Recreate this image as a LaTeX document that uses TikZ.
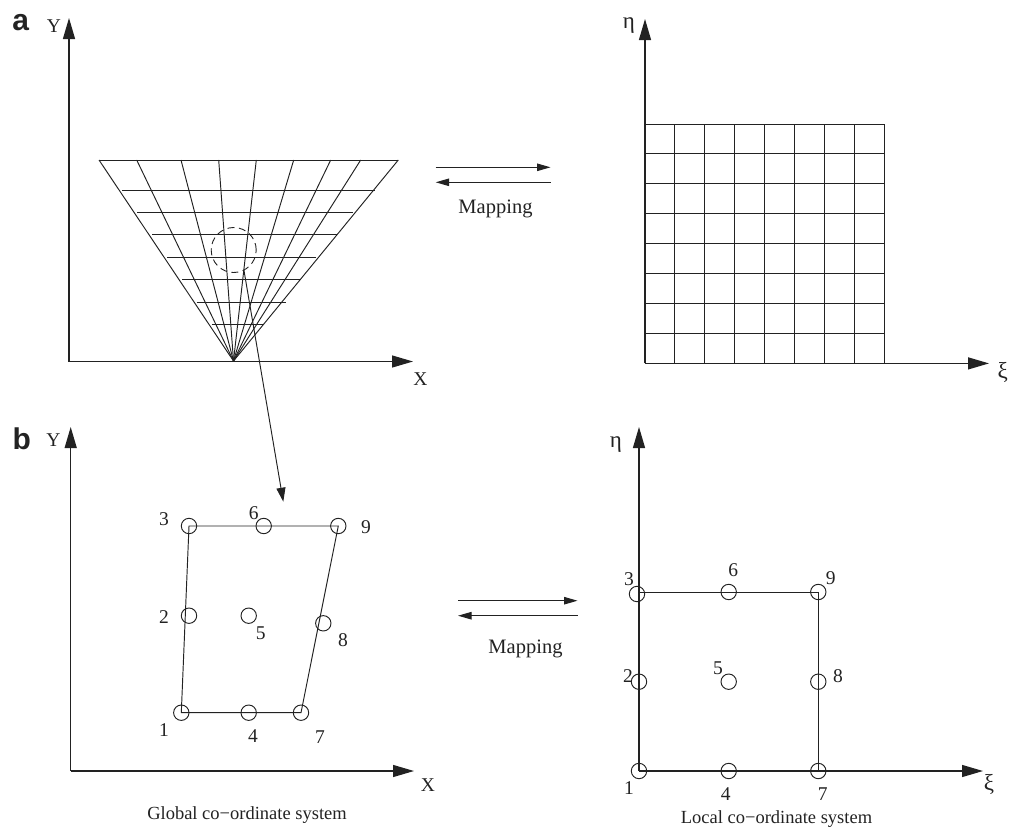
\documentclass[tikz,border=0pt]{standalone}
\usepackage{fontspec}
\setmainfont{Liberation Serif}
\newfontfamily\panelfont{Liberation Sans}[Scale=1]
\usetikzlibrary{arrows.meta}
\definecolor{ink}{HTML}{222222}
\tikzset{
  thinline/.style={draw=ink,line width=0.95pt},
  axisline/.style={draw=ink,line width=1.25pt,-{Triangle[length=21pt,width=12pt]}},
  maparrow/.style={draw=ink,line width=1pt,-{Triangle[length=13.5pt,width=7.5pt]}},
  nodering/.style={circle,draw=ink,line width=0.95pt,minimum size=15.4pt,inner sep=0pt,outer sep=0pt},
  lab/.style={anchor=base,inner sep=0pt,outer sep=0pt,text=ink,font=\fontsize{19.5}{19.5}\selectfont},
  greek/.style={lab,font=\fontsize{23}{23}\selectfont},
  maplab/.style={lab,font=\fontsize{20.5}{20.5}\selectfont},
  caption/.style={lab,font=\fontsize{18.5}{18.5}\selectfont},
  panel/.style={anchor=base,inner sep=0pt,outer sep=0pt,text=ink,font=\fontsize{30}{30}\selectfont\panelfont\bfseries}
}
\begin{document}
\begin{tikzpicture}[x=1pt,y=-1pt]
\useasboundingbox (0,0) rectangle (1012,830);
% ---------- panel a, left: fan mesh
\coordinate (apex) at (233.5,361);
\foreach \i/\x in {0/99,1/136.7,2/181,3/218.7,4/256.3,5/293.7,6/330.7,7/360.7,8/398.3}{
  \coordinate (top\i) at (\x,160);
  \draw[thinline] (apex) -- (top\i);
}
\draw[thinline] (top0) -- (top8);
\foreach \i/\y/\xa/\xb in {1/190/122/375,2/212.3/137/353.3,3/234.7/152/337.3,4/257/167/316,5/279.3/182/300.7,6/302/196.7/286,7/324.3/211.7/264}{
  \coordinate (hl\i) at (\xa,\y);
  \coordinate (hr\i) at (\xb,\y);
  \draw[thinline] (hl\i) -- (hr\i);
}
\coordinate (oa) at (69,361.5);
\coordinate (ya) at (69,18);
\coordinate (xa) at (413,361.5);
\draw[axisline] (oa) -- (ya);
\draw[axisline] (oa) -- (xa);
\node[circle,draw=ink,line width=0.9pt,dash pattern=on 7pt off 4.5pt,minimum size=45pt,inner sep=0pt,outer sep=0pt] (zone) at (233.7,250) {};
% ---------- panel a, right: square mesh
\foreach \i in {0,...,8}{
  \pgfmathsetmacro{\gx}{645+\i*29.93}
  \pgfmathsetmacro{\gy}{124+\i*29.93}
  \coordinate (gt\i) at (\gx,124);
  \coordinate (gb\i) at (\gx,363.4);
  \coordinate (gl\i) at (645,\gy);
  \coordinate (gr\i) at (884.4,\gy);
  \draw[thinline] (gt\i) -- (gb\i);
  \draw[thinline] (gl\i) -- (gr\i);
}
\coordinate (oe) at (645,363.4);
\coordinate (ye) at (645,19);
\coordinate (xe) at (989,363.4);
\draw[axisline] (oe) -- (ye);
\draw[axisline] (oe) -- (xe);
% ---------- mapping arrows a
\coordinate (m1l) at (435.7,167.3);
\coordinate (m1r) at (550.5,167.3);
\coordinate (m2l) at (435.7,182.3);
\coordinate (m2r) at (550.5,182.3);
\draw[maparrow] (m1l) -- (m1r);
\draw[maparrow] (m2r) -- (m2l);
\node[maplab] (mapa) at (495.5,213) {Mapping};
% ---------- panel b, left
\coordinate (ob) at (70.7,771);
\coordinate (yb) at (70.7,427);
\coordinate (xb) at (414,771);
\draw[axisline] (ob) -- (yb);
\draw[axisline] (ob) -- (xb);
\node[nodering] (g1) at (181.3,712.7) {};
\node[nodering] (g2) at (189,615.7) {};
\node[nodering] (g3) at (189,526) {};
\node[nodering] (g4) at (248.7,712.7) {};
\node[nodering] (g5) at (248.7,615.7) {};
\node[nodering] (g6) at (263.7,526) {};
\node[nodering] (g7) at (301,712.7) {};
\node[nodering] (g8) at (323.3,623.3) {};
\node[nodering] (g9) at (338.3,526) {};
\draw[thinline] (g1.center) -- (g3.center) -- (g9.center) -- (g7.center) -- cycle;
\node[lab] at (164,736) {1};
\node[lab] at (164,623.7) {2};
\node[lab] at (164,525.7) {3};
\node[lab] at (253,742) {4};
\node[lab] at (260.7,639) {5};
\node[lab] at (253.7,519) {6};
\node[lab] at (320,743) {7};
\node[lab] at (343,646) {8};
\node[lab] at (366,533.7) {9};
\coordinate (tipb) at (283.3,501.7);
\draw[draw=ink,line width=0.95pt,-{Triangle[length=14pt,width=9pt]}] (zone.-63) -- (tipb);
% ---------- panel b, right
\coordinate (oc) at (639,771);
\coordinate (yc) at (639,427);
\coordinate (xc) at (983,771);
\draw[axisline] (oc) -- (yc);
\draw[axisline] (oc) -- (xc);
\node[nodering] (l1) at (639,771) {};
\node[nodering] (l2) at (639,681.7) {};
\node[nodering] (l3) at (637,594) {};
\node[nodering] (l4) at (728.7,771) {};
\node[nodering] (l5) at (728.7,681.7) {};
\node[nodering] (l6) at (728.7,592) {};
\node[nodering] (l7) at (818.3,771) {};
\node[nodering] (l8) at (818.3,681.7) {};
\node[nodering] (l9) at (818.3,592) {};
\coordinate (lc) at (639,592);
\draw[thinline] (lc) -- (l9.center) -- (l7.center);
\node[lab] at (629,794) {1};
\node[lab] at (628,682) {2};
\node[lab] at (629,585) {3};
\node[lab] at (725.7,800) {4};
\node[lab] at (718,674) {5};
\node[lab] at (733.3,576.7) {6};
\node[lab] at (822.7,800) {7};
\node[lab] at (838,682) {8};
\node[lab] at (830.7,584) {9};
% ---------- mapping arrows b
\coordinate (n1l) at (458,600.7);
\coordinate (n1r) at (577.5,600.7);
\coordinate (n2l) at (458,615.7);
\coordinate (n2r) at (577.5,615.7);
\draw[maparrow] (n1l) -- (n1r);
\draw[maparrow] (n2r) -- (n2l);
\node[maplab] (mapb) at (525.5,653) {Mapping};
% ---------- axis labels and captions
\node[panel] (pa) at (20.7,30) {a};
\node[panel] (pb) at (21.7,449) {b};
\node[lab] at (54,32.7) {Y};
\node[lab] at (420.5,385) {X};
\node[greek] at (629,28) {η};
\node[greek] at (1002.7,378) {ξ};
\node[lab] at (53.3,446) {Y};
\node[lab] at (428,791) {X};
\node[greek] at (616,447) {η};
\node[greek] at (989,790) {ξ};
\node[caption] (capg) at (247,819) {Global co−ordinate system};
\node[caption] (capl) at (776.5,823) {Local co−ordinate system};
\end{tikzpicture}
\end{document}
